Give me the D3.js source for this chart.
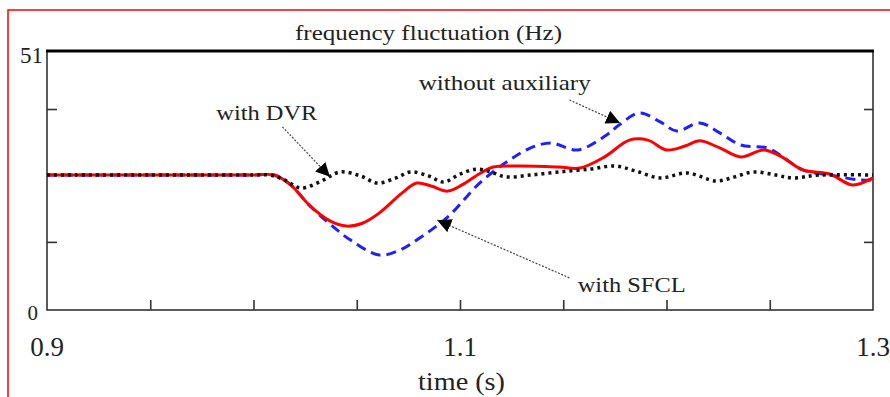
<!DOCTYPE html>
<html>
<head>
<meta charset="utf-8">
<script src="https://cdn.jsdelivr.net/npm/d3@7"></script>
<style>
  html, body { margin: 0; padding: 0; background: #fff; }
  svg { display: block; }
  text { font-family: "Liberation Serif", "Times New Roman", serif; fill: #222; }
</style>
</head>
<body>
<svg id="chart" width="890" height="397"></svg>
<script>
'use strict';

/* -- Data (time in s, frequency in Hz) ---------------------------------- */
const tDVR = [0.900, 0.950, 1.000, 1.008, 1.015, 1.023, 1.032, 1.042, 1.052, 1.060, 1.069, 1.076,
              1.085, 1.092, 1.100, 1.108, 1.115, 1.122, 1.134, 1.148, 1.163, 1.175,
              1.185, 1.197, 1.210, 1.224, 1.233, 1.242, 1.253, 1.261, 1.274, 1.300];
const fDVR = [50.521, 50.521, 50.521, 50.521, 50.502, 50.471, 50.494, 50.533, 50.517, 50.490, 50.510, 50.533,
              50.517, 50.494, 50.525, 50.544, 50.533, 50.514, 50.521, 50.533, 50.544, 50.556,
              50.537, 50.510, 50.529, 50.498, 50.514, 50.533, 50.521, 50.510, 50.521, 50.521];

const tSFCL = [0.900, 0.950, 1.000, 1.010, 1.018, 1.027, 1.037, 1.045, 1.053, 1.061, 1.072, 1.079,
               1.086, 1.094, 1.101, 1.110, 1.116, 1.129, 1.148, 1.158, 1.170, 1.182,
               1.191, 1.200, 1.209, 1.216, 1.226, 1.236, 1.247, 1.255, 1.266, 1.279,
               1.290, 1.300];
const fSFCL = [50.521, 50.521, 50.521, 50.521, 50.483, 50.405, 50.344, 50.324, 50.336, 50.375, 50.452, 50.490,
               50.479, 50.459, 50.483, 50.529, 50.552, 50.556, 50.552, 50.548, 50.591, 50.656,
               50.656, 50.618, 50.633, 50.653, 50.625, 50.591, 50.618, 50.595, 50.541, 50.525,
               50.483, 50.510];

const tNone = [0.900, 0.950, 1.000, 1.010, 1.018, 1.027, 1.037, 1.047, 1.061, 1.071, 1.079, 1.094,
               1.110, 1.124, 1.134, 1.144, 1.157, 1.171, 1.177, 1.187, 1.197, 1.205,
               1.216, 1.226, 1.236, 1.249, 1.257, 1.266, 1.279, 1.294, 1.300];
const fNone = [50.521, 50.521, 50.521, 50.521, 50.483, 50.405, 50.332, 50.270, 50.212, 50.232, 50.270, 50.359,
               50.494, 50.579, 50.625, 50.645, 50.618, 50.676, 50.714, 50.761, 50.726, 50.691,
               50.722, 50.683, 50.637, 50.625, 50.587, 50.541, 50.521, 50.502, 50.502];

const xMinorTicks = [0.95, 1.0, 1.05, 1.1, 1.15, 1.2, 1.25];
const xTickLabels = [0.9, 1.1, 1.3];
const yMinorTicks = [50.263, 50.776];
const yTickLabels = [{ v: 51, t: '51' }, { v: 50, t: '0' }];

/* -- Annotations: label text, label anchor (t, f), arrow tail and tip --- */
const notes = [
    { text: 'with DVR',          len: 101, at: [0.982, 50.734], from: [1.014, 50.707], to: [1.037, 50.514] },
    { text: 'without auxiliary', len: 172, at: [1.080, 50.849], from: [1.153, 50.811], to: [1.1775, 50.722] },
    { text: 'with SFCL',         len: 108, at: [1.157, 50.069], from: [1.153, 50.124], to: [1.089, 50.347] }
];

/* -- Layout ------------------------------------------------------------- */
const plot = { left: 47, right: 873, top: 51, bottom: 310 };
const svg = d3.select('#chart');

const x = d3.scaleLinear().domain([0.9, 1.3]).range([plot.left, plot.right]);
const y = d3.scaleLinear().domain([50, 51]).range([plot.bottom, plot.top]);

/* -- Red outer frame ---------------------------------------------------- */
svg.append('rect')
    .attr('x', 8).attr('y', 10)
    .attr('width', 900).attr('height', 420)
    .attr('fill', 'none')
    .attr('stroke', '#ff0000')
    .attr('stroke-width', 1.5);

/* -- Plot box ----------------------------------------------------------- */
svg.append('rect')
    .attr('x', plot.left).attr('y', plot.top)
    .attr('width', plot.right - plot.left).attr('height', plot.bottom - plot.top)
    .attr('fill', '#fff')
    .attr('stroke', '#333')
    .attr('stroke-width', 1.6);

svg.append('line')
    .attr('x1', plot.left - 1).attr('x2', plot.right + 1)
    .attr('y1', plot.top).attr('y2', plot.top)
    .attr('stroke', '#000')
    .attr('stroke-width', 3.2);

/* -- Inner ticks -------------------------------------------------------- */
const xAxis = d3.axisBottom(x).tickValues(xMinorTicks).tickSize(-10).tickFormat('');
svg.append('g')
    .attr('class', 'x axis')
    .attr('transform', 'translate(0,' + plot.bottom + ')')
    .call(xAxis)
    .call(g => g.select('.domain').remove())
    .selectAll('line').attr('stroke', '#333').attr('stroke-width', 1.6);

const yAxisL = d3.axisLeft(y).tickValues(yMinorTicks).tickSize(-10).tickFormat('');
svg.append('g')
    .attr('transform', 'translate(' + plot.left + ',0)')
    .call(yAxisL)
    .call(g => g.select('.domain').remove())
    .selectAll('line').attr('stroke', '#333').attr('stroke-width', 1.6);

const yAxisR = d3.axisRight(y).tickValues(yMinorTicks).tickSize(-9).tickFormat('');
svg.append('g')
    .attr('transform', 'translate(' + plot.right + ',0)')
    .call(yAxisR)
    .call(g => g.select('.domain').remove())
    .selectAll('line').attr('stroke', '#333').attr('stroke-width', 1.6);

/* -- Tick labels -------------------------------------------------------- */
svg.selectAll('text.xlab')
    .data(xTickLabels)
    .enter().append('text')
    .attr('class', 'xlab')
    .attr('x', d => x(d))
    .attr('y', 356)
    .attr('text-anchor', 'middle')
    .style('font-size', '27px')
    .text(d => d3.format('.1f')(d));

svg.selectAll('text.ylab')
    .data(yTickLabels)
    .enter().append('text')
    .attr('class', 'ylab')
    .attr('x', d => d.v === 51 ? 43 : 38)
    .attr('y', d => y(d.v) + (d.v === 51 ? 12 : 10))
    .attr('text-anchor', 'end')
    .style('font-size', d => d.v === 51 ? '23px' : '21px')
    .text(d => d.t);

/* -- Titles ------------------------------------------------------------- */
svg.append('text')
    .attr('x', 295).attr('y', 40)
    .attr('textLength', 267)
    .attr('lengthAdjust', 'spacingAndGlyphs')
    .style('font-size', '21px')
    .text('frequency fluctuation (Hz)');

svg.append('text')
    .attr('x', 418).attr('y', 390)
    .attr('textLength', 87)
    .attr('lengthAdjust', 'spacingAndGlyphs')
    .style('font-size', '25px')
    .text('time (s)');

/* -- Curves ------------------------------------------------------------- */
const line = d3.line()
    .x(d => x(d[0]))
    .y(d => y(d[1]))
    .curve(d3.curveCatmullRom.alpha(0.5));

const series = [
    { t: tNone, f: fNone, color: '#1f1fff', width: 3, dash: '10,6' },
    { t: tSFCL, f: fSFCL, color: '#ff0000', width: 3, dash: null },
    { t: tDVR,  f: fDVR,  color: '#111',    width: 3.5, dash: '3,4' }
];

const curves = svg.append('g').attr('id', 'plotCanvas');
series.forEach(function(s) {
    curves.append('path')
        .datum(d3.zip(s.t, s.f))
        .attr('d', line)
        .attr('fill', 'none')
        .attr('stroke', s.color)
        .attr('stroke-width', s.width)
        .attr('stroke-dasharray', s.dash);
});

/* -- Annotation arrows -------------------------------------------------- */
svg.append('defs').append('marker')
    .attr('id', 'head')
    .attr('viewBox', '0 0 10 10')
    .attr('refX', 10).attr('refY', 5)
    .attr('markerWidth', 14).attr('markerHeight', 14)
    .attr('markerUnits', 'userSpaceOnUse')
    .attr('orient', 'auto')
    .append('path')
    .attr('d', 'M0,0 L10,5 L0,10 Z')
    .attr('fill', '#000');

const noteG = svg.append('g');
notes.forEach(function(n) {
    noteG.append('line')
        .attr('x1', x(n.from[0])).attr('y1', y(n.from[1]))
        .attr('x2', x(n.to[0])).attr('y2', y(n.to[1]))
        .attr('stroke', '#444')
        .attr('stroke-width', 1.2)
        .attr('stroke-dasharray', '2,1.5')
        .attr('marker-end', 'url(#head)');
    noteG.append('text')
        .attr('x', x(n.at[0])).attr('y', y(n.at[1]))
        .attr('textLength', n.len)
        .attr('lengthAdjust', 'spacingAndGlyphs')
        .style('font-size', '21px')
        .text(n.text);
});
</script>
</body>
</html>
